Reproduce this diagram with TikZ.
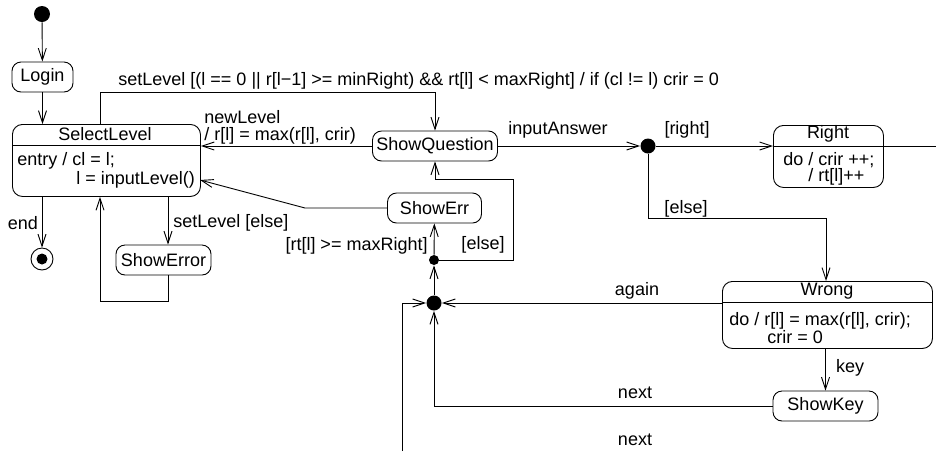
\documentclass[tikz,border=0pt]{standalone}
\usepackage{fontspec}
\setmainfont{Liberation Sans}
\usetikzlibrary{arrows.meta,positioning,calc}

\tikzset{
    state/.style={draw, rounded corners=9pt, minimum height=30pt, inner xsep=3pt, inner ysep=0pt},
    cbox/.style={draw, rounded corners=10pt, anchor=north west, inner sep=0pt},
    pseudo/.style={circle, fill, inner sep=0pt, minimum size=#1},
    trans/.style={-{Straight Barb[length=12pt,width=8pt]}},
    lbl/.style={inner sep=1pt}
}

\begin{document}
\begin{tikzpicture}[x=1pt, y=-1pt, line width=0.9pt, font=\fontsize{18}{17}\selectfont]
\useasboundingbox (0,0) rectangle (936,451);

% Pseudo states
\node[pseudo=16pt] (init) at (42,14) {};
\node[draw, circle, minimum size=22pt, inner sep=0pt] (final) at (42,259) {};
\node[pseudo=11pt] (finaldot) at (final) {};
\node[pseudo=15pt] (j1) at (648,146) {};
\node[pseudo=15pt] (j2) at (434,303) {};
\node[pseudo=10pt] (j3) at (434,260) {};

% Simple states
\node[state, minimum width=61pt] (login) at (42.5,77) {Login};
\node[state, minimum width=125pt] (sq) at (435,146) {ShowQuestion};
\node[state, minimum width=94pt] (se) at (434.5,208) {ShowErr};
\node[state, minimum width=95pt] (showerror) at (163.5,260) {ShowError};
\node[state, minimum width=105pt] (sk) at (825.5,406) {ShowKey};

% SelectLevel
\node[cbox, minimum width=188pt, minimum height=72pt] (sel) at (12,124) {};
\coordinate (selSep) at (0,145);
\draw (sel.west |- selSep) -- (sel.east |- selSep);
\node (selT) at (105,134) {SelectLevel};
\node[anchor=north west, align=left, inner sep=0pt, font=\fontsize{18}{19}\selectfont] (selB) at (17,152)
    {entry / cl = l;\\\hspace*{59pt}l = inputLevel()};

% Right
\node[cbox, minimum width=110pt, minimum height=62pt] (right) at (773,125) {};
\coordinate (rightSep) at (0,146);
\draw (right.west |- rightSep) -- (right.east |- rightSep);
\node (rightT) at (828,134) {Right};
\node[anchor=north west, align=left, inner sep=0pt, font=\fontsize{18}{15}\selectfont] (rightB) at (783,152)
    {do / crir ++;\\\hspace*{25pt}/ rt[l]++};

% Wrong
\node[cbox, minimum width=210pt, minimum height=67pt] (wrong) at (722,281) {};
\coordinate (wrongSep) at (0,302);
\draw (wrong.west |- wrongSep) -- (wrong.east |- wrongSep);
\node (wrongT) at (827,291) {Wrong};
\node[anchor=north west, align=left, inner sep=0pt, font=\fontsize{18}{16}\selectfont] (wrongB) at (729,312)
    {do / r[l] = max(r[l], crir);\\\hspace*{38pt}crir = 0};

% Corners of the connectors
\coordinate (slA) at (100,92);
\coordinate (retA) at (168,301);
\coordinate (loopX) at (100,0);
\coordinate (elseX) at (168,0);
\coordinate (elC) at (826,218);
\coordinate (exitR) at (936,146);
\coordinate (entB) at (402,451);
\coordinate (eA) at (513,260);
\coordinate (eB) at (513,179);
\coordinate (seK) at (305,208);
\coordinate (selIn) at (200,180);

% Transitions
\draw[trans] (init) -- (login);
\draw[trans] (login.south) -- (login.south |- sel.north);
\draw[trans] (sel.south -| final) -- (final);
\node[lbl] (lEnd) at (23,223) {end};
\draw[trans] (sel.south -| elseX) -- (showerror.north -| elseX);
\node[lbl, anchor=west] (lSetElse) at (172,223) {setLevel [else]};
\draw[trans] (showerror.south -| elseX) -- (retA) -| (sel.south -| loopX);
\draw[trans] (sel.north -| slA) -- (slA) -| (sq.north);
\node[lbl, anchor=west] (lSet) at (117,81) {setLevel [(l == 0 || r[l−1] >= minRight) \&\& rt[l] < maxRight] / if (cl != l) crir = 0};
\draw[trans] (sq.west) -- (sel.east |- sq.west);
\node[lbl, anchor=west, align=left] (lNew) at (203,127) {newLevel\\/ r[l] = max(r[l], crir)};
\draw[trans] (sq.east) -- (j1);
\node[lbl] (lIn) at (558,130) {inputAnswer};
\draw[trans] (j1) -- (right.west |- j1);
\node[lbl] (lRight) at (687,130) {[right]};
\draw (right.east |- j1) -- (exitR);
\draw[trans] (j1) |- (elC) -- (wrong.north -| elC);
\node[lbl] (lElse1) at (686,209) {[else]};
\draw[trans] (wrong.west |- j2) -- (j2);
\node[lbl] (lAgain) at (637,291) {again};
\draw[trans] (wrong.south -| sk) -- (sk.north);
\node[lbl] (lKey) at (850,368) {key};
\draw[trans] (sk.west) -| (j2);
\node[lbl] (lNext1) at (635,393) {next};
\draw[trans] (entB) |- (j2);
\node[lbl] (lNext2) at (635,440) {next};
\draw[trans] (j2) -- (j3);
\draw[trans] (j3) -- (se);
\node[lbl, anchor=east] (lRt) at (429,246) {[rt[l] >= maxRight]};
\draw[trans] (j3) -- (eA) -- (eB) -| (sq.south);
\node[lbl] (lElse2) at (483,245) {[else]};
\draw[trans] (se.west) -- (seK) -- (selIn);
\end{tikzpicture}
\end{document}
